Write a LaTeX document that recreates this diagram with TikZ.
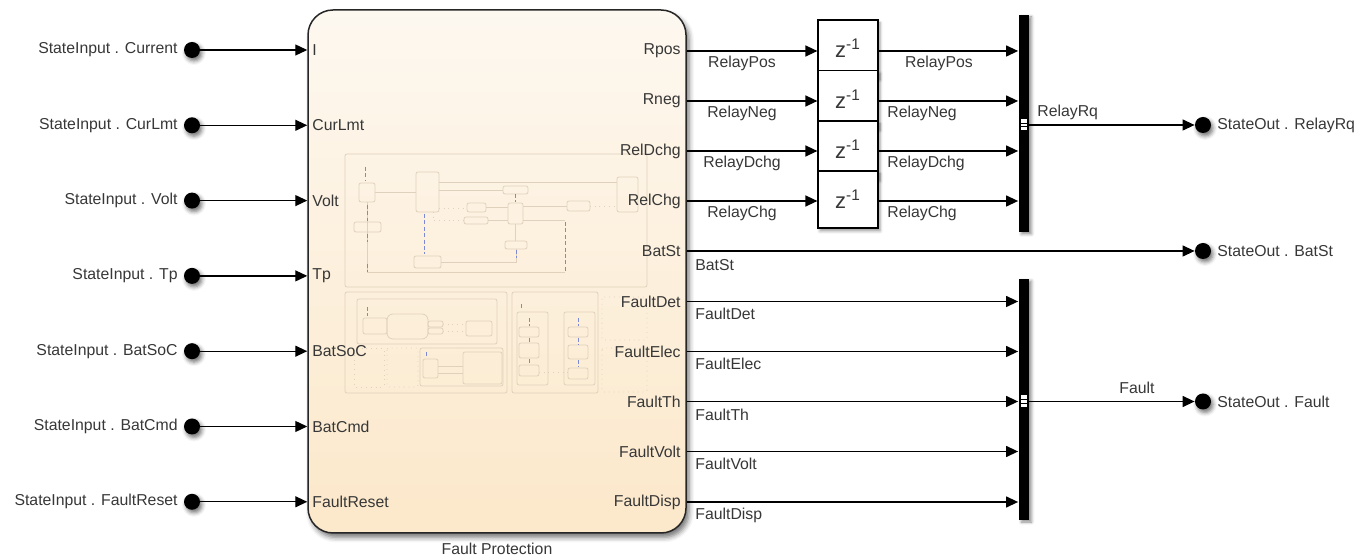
\documentclass[tikz,border=0pt]{standalone}
\usepackage{fontspec}
\setmainfont{Liberation Sans}
\usetikzlibrary{arrows.meta,shadows.blur}

\definecolor{txt}{RGB}{55,55,55}
\definecolor{blkTop}{RGB}{253,248,240}
\definecolor{blkBot}{RGB}{252,232,202}
\definecolor{thumb}{RGB}{224,209,188}
\definecolor{thumbblue}{RGB}{125,138,210}

\tikzset{
  lbl/.style={font=\fontsize{7.9}{9}\selectfont, text=txt, inner sep=0pt},
  sig/.style={draw=black, line width=0.65pt, -{Triangle[length=6pt,width=5.5pt]}},
  portdot/.style={circle, fill=black, minimum size=8pt, inner sep=0pt,
    blur shadow={shadow xshift=1pt, shadow yshift=-1.5pt, shadow blur radius=2pt, shadow opacity=55}},
  subsys/.style={draw=black!85, line width=0.75pt, rounded corners=12.5pt,
    top color=blkTop, bottom color=blkBot, minimum width=189pt, minimum height=261.5pt, inner sep=0pt,
    blur shadow={shadow xshift=1.5pt, shadow yshift=-2.2pt, shadow blur radius=2.5pt, shadow opacity=55}},
  delaybox/.style={draw=black, line width=0.6pt, fill=white, minimum width=30pt, minimum height=28.5pt,
    inner sep=0pt, font=\fontsize{11}{12}\selectfont, text=txt,
    blur shadow={shadow xshift=1pt, shadow yshift=-1.5pt, shadow blur radius=1.5pt, shadow opacity=40}},
  busbar/.style={fill=black, minimum width=5pt, inner sep=0pt,
    blur shadow={shadow xshift=1.5pt, shadow yshift=-1pt, shadow blur radius=1.5pt, shadow opacity=45}},
  tbox/.style={draw=thumb, line width=0.4pt, rounded corners=1pt},
  tdot/.style={draw=thumb, line width=0.4pt, dotted, rounded corners=1pt},
  tline/.style={draw=thumb, line width=0.35pt},
  tblue/.style={draw=thumbblue, line width=0.4pt, dash pattern=on 2pt off 1.2pt},
}

\begin{document}
\begin{tikzpicture}[x=0.5pt, y=-0.5pt]
\useasboundingbox (0,0) rectangle (1371,560);

% ---------- subsystem block ----------
\node[subsys] (fp) at (497,271.5) {};
\node[lbl] (cap) at (497,549) {Fault Protection};

% miniature contents of the subsystem
\begin{scope}
  % upper area
  \draw[tbox] (345,154) rectangle (647,287);
  \draw[tbox] (359,183) rectangle (375,202);
  \draw[tbox] (354,222) rectangle (381,232);
  \draw[tbox] (416,172) rectangle (439,212);
  \draw[tbox] (414,256) rectangle (441,268);
  \draw[tbox] (503,186) rectangle (528,194);
  \draw[tbox] (467,203) rectangle (486,212);
  \draw[tbox] (464,217) rectangle (488,224);
  \draw[tbox] (508,203) rectangle (523,224);
  \draw[tbox] (505,241) rectangle (527,249);
  \draw[tbox] (567,201) rectangle (590,211);
  \draw[tbox] (617,177) rectangle (638,212);
  \draw[tline] (375,192) -- (416,192);
  \draw[tline] (439,182) -- (617,182);
  \draw[tline] (439,190) -- (503,190);
  \draw[tline, dotted] (439,208) -- (467,208);
  \draw[tline] (486,207) -- (508,207);
  \draw[tline, dotted] (433,212) -- (433,220) -- (464,220);
  \draw[tline] (488,220) -- (508,220);
  \draw[tline] (523,206) -- (567,206);
  \draw[tline, dotted] (590,206) -- (617,206);
  \draw[tline] (367,202) -- (367,272) -- (565,272);
  \draw[tline] (515,224) -- (515,241);
  \draw[tline] (516,249) -- (516,262) -- (441,262);
  \draw[tline] (523,220) -- (565,220);
  \draw[tblue] (365,167) -- (365,181);
  \draw[tblue] (367,205) -- (367,221);
  \draw[tblue] (367,234) -- (367,242);
  \draw[tblue] (367,264) -- (367,272);
  \draw[tblue] (424,214) -- (424,254);
  \draw[tblue] (515,194) -- (515,202);
  \draw[tblue] (516,250) -- (516,258);
  \draw[tblue] (565,222) -- (565,272);
  % lower left area
  \draw[tbox] (345,292) rectangle (507,393);
  \draw[tbox] (357,299) rectangle (497,344);
  \draw[tbox] (363,318) rectangle (387,334);
  \draw[tbox, rounded corners=3pt] (387,314) rectangle (428,339);
  \draw[tbox] (428,321) rectangle (443,327);
  \draw[tbox] (428,328) rectangle (443,334);
  \draw[tbox] (466,321) rectangle (492,336);
  \draw[tline, dotted] (443,324) -- (466,324);
  \draw[tline, dotted] (443,331) -- (466,331);
  \draw[tblue] (367,307) -- (367,316);
  \draw[tdot] (354,348) rectangle (384,387);
  \draw[tdot] (387,348) rectangle (418,387);
  \draw[tbox] (420,348) rectangle (503,386);
  \draw[tbox] (423,359) rectangle (438,378);
  \draw[tbox] (463,352) rectangle (502,384);
  \draw[tline] (438,366) -- (463,366);
  \draw[tline] (438,373) -- (463,373);
  \draw[tblue] (426,352) -- (426,357);
  % lower right area
  \draw[tbox] (512,292) rectangle (598,393);
  \draw[tbox] (517,312) rectangle (548,385);
  \draw[tbox] (564,312) rectangle (595,385);
  \draw[tbox] (519,327) rectangle (539,337);
  \draw[tbox] (519,343) rectangle (539,358);
  \draw[tbox] (519,365) rectangle (539,376);
  \draw[tbox] (568,327) rectangle (588,337);
  \draw[tbox] (568,345) rectangle (588,359);
  \draw[tbox] (568,368) rectangle (588,379);
  \draw[tline, dotted] (539,372) -- (568,372);
  \draw[tblue] (521,304) -- (521,310);
  \draw[tblue] (529,318) -- (529,326);
  \draw[tblue] (529,338) -- (529,343);
  \draw[tblue] (529,359) -- (529,364);
  \draw[tblue] (578,318) -- (578,326);
  \draw[tblue] (578,338) -- (578,345);
  \draw[tblue] (578,360) -- (578,367);
  \draw[tdot] (602,297) rectangle (647,340);
  \draw[tdot] (602,348) rectangle (647,392);
\end{scope}

% ---------- inputs ----------
\foreach \n/\y/\src/\port in {
    1/50/Current/I, 2/125.3/CurLmt/CurLmt, 3/200.6/Volt/Volt, 4/275.9/Tp/Tp,
    5/351.2/BatSoC/BatSoC, 6/426.5/BatCmd/BatCmd, 7/501.8/FaultReset/FaultReset}{
  \node[portdot] (in\n) at (192,\y) {};
  \node[lbl, anchor=east] (inl\n) at (178,\y) {StateInput . \src};
  \node[lbl, anchor=west] (ip\n) at (312,\y) {\port};
  \draw[sig] (in\n) -- (fp.west |- in\n);
}

% ---------- subsystem output ports ----------
\foreach \n/\y/\port in {
    1/51/Rpos, 2/101/Rneg, 3/151/RelDchg, 4/201/RelChg, 5/251/BatSt,
    6/301.5/FaultDet, 7/351.5/FaultElec, 8/401.5/FaultTh, 9/451.5/FaultVolt, 10/502/FaultDisp}{
  \node[lbl, anchor=east] (op\n) at (681,\y) {\port};
}

% ---------- unit delays ----------
\node[delaybox] (d1) at (848,48.5) {z\textsuperscript{-1}};
\node[delaybox] (d2) at (848,99) {z\textsuperscript{-1}};
\node[delaybox] (d3) at (848,149.5) {z\textsuperscript{-1}};
\node[delaybox] (d4) at (848,199.5) {z\textsuperscript{-1}};

% ---------- bus creators ----------
\node[busbar, minimum height=108.5pt] (bus1) at (1023.5,123.5) {};
\node[busbar, minimum height=120.5pt] (bus2) at (1023.5,399.5) {};
\foreach \b/\c in {bus1/125, bus2/401.5}{
  \fill[white] (1020.5,\c-6) rectangle (1026.5,\c-2.3);
  \fill[white] (1020.5,\c-1) rectangle (1026.5,\c+1.2);
  \fill[white] (1020.5,\c+2.5) rectangle (1026.5,\c+5.5);
}

% ---------- outputs ----------
\node[portdot] (o1) at (1203,125) {};
\node[portdot] (o2) at (1203,251) {};
\node[portdot] (o3) at (1203,401.5) {};
\node[lbl, anchor=west] (ol1) at (1217,125) {StateOut . RelayRq};
\node[lbl, anchor=west] (ol2) at (1217,251) {StateOut . BatSt};
\node[lbl, anchor=west] (ol3) at (1217,401.5) {StateOut . Fault};

% ---------- connectors ----------
\foreach \n in {1,2,3,4}{
  \draw[sig] (fp.east |- op\n) -- (d\n.west |- op\n);
  \draw[sig] (d\n.east |- op\n) -- (bus1.west |- op\n);
}
\draw[sig] (fp.east |- op5) -- (o2);
\foreach \n in {6,7,8,9,10}{
  \draw[sig] (fp.east |- op\n) -- (bus2.west |- op\n);
}
\draw[sig] (bus1.east |- o1) -- (o1);
\draw[sig] (bus2.east |- o3) -- (o3);

% ---------- signal names ----------
\node[lbl] (s1a) at (742,63) {RelayPos};
\node[lbl] (s2a) at (742,113) {RelayNeg};
\node[lbl] (s3a) at (742,163) {RelayDchg};
\node[lbl] (s4a) at (742,213) {RelayChg};
\node[lbl] (s1b) at (939,63) {RelayPos};
\node[lbl, anchor=west] (s2b) at (887,113) {RelayNeg};
\node[lbl, anchor=west] (s3b) at (887,163) {RelayDchg};
\node[lbl, anchor=west] (s4b) at (887,213) {RelayChg};
\node[lbl, anchor=west] (srq) at (1037,112) {RelayRq};
\node[lbl, anchor=west] (sbat) at (695,265) {BatSt};
\node[lbl, anchor=west] (sf1) at (695,314) {FaultDet};
\node[lbl, anchor=west] (sf2) at (695,364) {FaultElec};
\node[lbl, anchor=west] (sf3) at (695,414.5) {FaultTh};
\node[lbl, anchor=west] (sf4) at (695,464) {FaultVolt};
\node[lbl, anchor=west] (sf5) at (695,515) {FaultDisp};
\node[lbl] (sfault) at (1137,388) {Fault};
\end{tikzpicture}
\end{document}
